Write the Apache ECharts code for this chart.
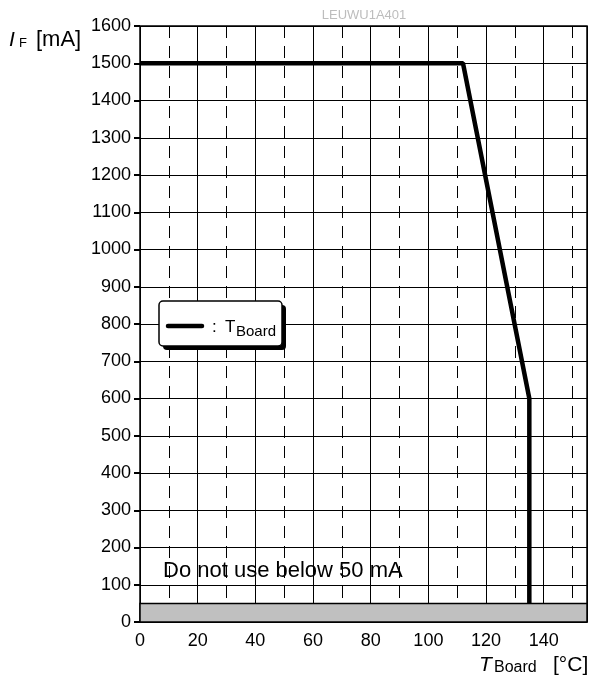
<!DOCTYPE html>
<html><head><meta charset="utf-8">
<script src="https://cdn.jsdelivr.net/npm/echarts@6/dist/echarts.min.js"></script>
<style>html,body{margin:0;padding:0;background:#fff}#c{width:592px;height:689px}</style>
</head><body><div id="c"></div>
<script>
// Derating curve data
const boardTempC = [0, 112, 135, 135];
const forwardCurrentMA = [1500, 1500, 600, 50];
const xRange = [0, 155];
const yRange = [0, 1600];
const minCurrentMA = 50;
const chartCode = 'LEUWU1A401';
const noteText = 'Do not use below 50 mA';

const FONT = '"Liberation Sans", Arial, Helvetica, sans-serif';
const chart = echarts.init(document.getElementById('c'), null, {renderer: 'canvas'});

const lineData = boardTempC.map((t, i) => [t, forwardCurrentMA[i]]);

function txt(x, y, text, size, extra) {
  return Object.assign({type: 'text', x: x, y: y, z: 30,
    style: Object.assign({text: text, fontSize: size, fontFamily: FONT, fill: '#000', verticalAlign: 'bottom'}, extra || {})});
}

chart.setOption({
  animation: false,
  backgroundColor: '#fff',
  grid: {left: 140, right: 5, top: 26, bottom: 67, show: true, borderColor: '#000', borderWidth: 1.5, backgroundColor: '#fff'},
  xAxis: [{
    type: 'value', min: xRange[0], max: xRange[1], interval: 20, position: 'bottom',
    axisLine: {show: false}, axisTick: {show: false},
    axisLabel: {color: '#000', fontSize: 18, fontFamily: FONT, margin: 10, showMaxLabel: false,
      formatter: v => (v % 20 === 0 ? String(v) : '')},
    splitLine: {show: true, lineStyle: {color: '#000', width: 1}}
  }, {
    type: 'value', min: xRange[0], max: xRange[1], interval: 10, position: 'top',
    axisLine: {show: false}, axisTick: {show: false}, axisLabel: {show: false},
    splitLine: {show: true, lineStyle: {color: '#000', width: 1, type: [12, 8]}}
  }],
  yAxis: [{
    type: 'value', min: yRange[0], max: yRange[1], interval: 100, position: 'left',
    axisLine: {show: false}, axisTick: {show: false},
    axisLabel: {color: '#000', fontSize: 18, fontFamily: FONT, margin: 9, formatter: v => String(v)},
    splitLine: {show: true, lineStyle: {color: '#000', width: 1}}
  }, {
    type: 'value', min: yRange[0], max: yRange[1], interval: 100, position: 'right',
    axisLine: {show: false}, axisLabel: {show: false}, splitLine: {show: false},
    axisTick: {show: true, inside: true, length: 6, lineStyle: {color: '#000', width: 2}}
  }],
  series: [{
    type: 'line', xAxisIndex: 0, yAxisIndex: 0, data: lineData,
    symbol: 'none', lineStyle: {color: '#000', width: 4.5}, z: 5,
    markArea: {
      silent: true,
      itemStyle: {color: '#c0c0c0', borderColor: '#000', borderWidth: 1.5},
      data: [[{yAxis: yRange[0]}, {yAxis: minCurrentMA}]]
    }
  }],
  graphic: [
    txt(364, 22, chartCode, 13, {fill: '#bdbdbd', align: 'center'}),
    // y-axis name: I_F [mA]
    txt(9, 51, 'I', 21, {fontStyle: 'italic'}),
    txt(19, 50, 'F', 13),
    txt(36, 51, '[mA]', 22),
    // x-axis name: T_Board [°C]
    txt(479, 676, 'T', 21, {fontStyle: 'italic'}),
    txt(494, 676, 'Board', 16),
    txt(553, 676, '[°C]', 21),
    // note
    txt(163, 582, noteText, 22),
    // legend box
    {type: 'rect', z: 20, shape: {x: 163, y: 305, width: 123, height: 45, r: 4}, style: {fill: '#000'}},
    {type: 'rect', z: 21, shape: {x: 159, y: 301, width: 123, height: 45, r: 4}, style: {fill: '#fff', stroke: '#000', lineWidth: 1.5}},
    {type: 'line', z: 22, shape: {x1: 168, y1: 326, x2: 202, y2: 326}, style: {stroke: '#000', lineWidth: 4.5, lineCap: 'round'}},
    txt(212, 336, ':', 17),
    txt(225, 336, 'T', 17),
    txt(236, 339, 'Board', 15)
  ]
});
</script></body></html>
